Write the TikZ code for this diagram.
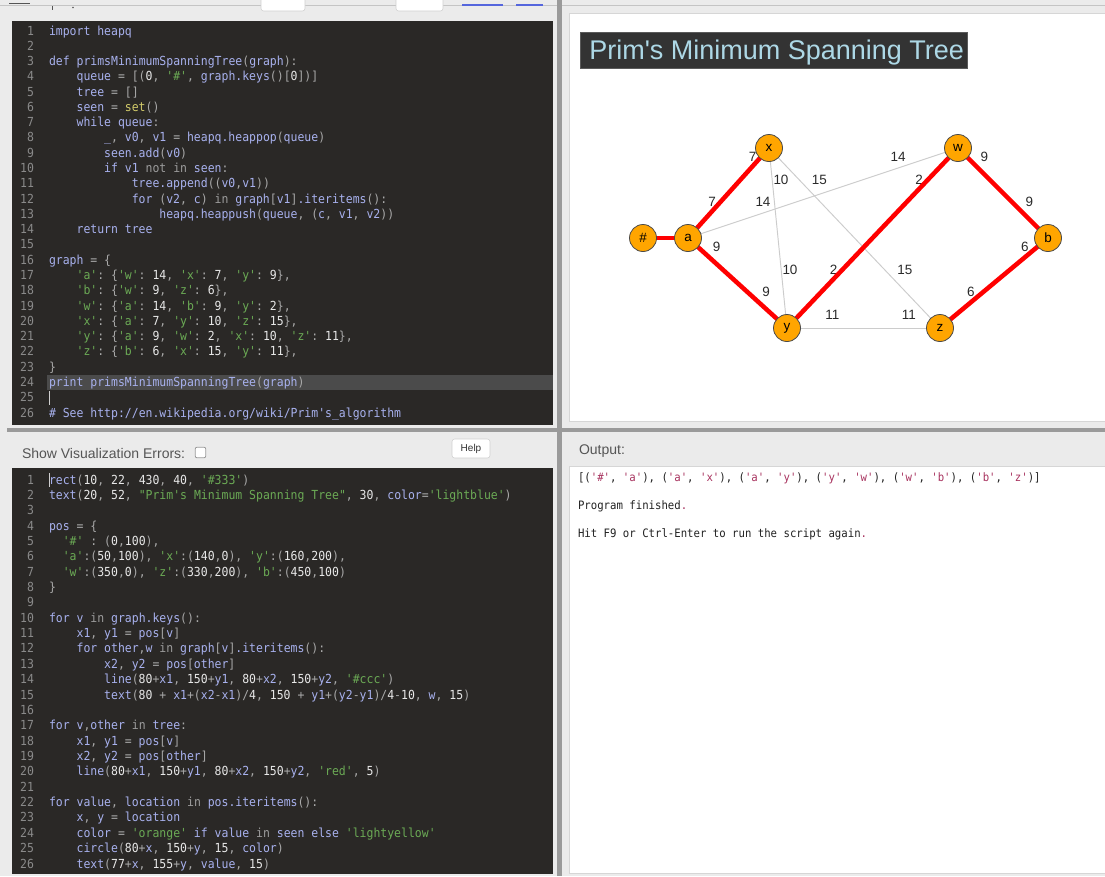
\documentclass[tikz,border=0pt]{standalone}
\usepackage{fontspec}
\setmainfont{Liberation Sans}
\setmonofont{DejaVu Sans Mono}[FakeStretch=0.92]

\definecolor{pagebg}{HTML}{EBEBEB}
\definecolor{codebg}{HTML}{2A2826}
\definecolor{cid}{HTML}{A8B1EE}
\definecolor{cnum}{HTML}{E8E8E8}
\definecolor{cstr}{HTML}{6BAA55}
\definecolor{cpun}{HTML}{A9A9A9}
\definecolor{cset}{HTML}{D2CB6A}
\definecolor{cmut}{HTML}{9C9C9C}
\definecolor{clnum}{HTML}{8A8A8A}
\definecolor{hiline}{HTML}{4B4B4B}
\definecolor{titlebg}{HTML}{333333}
\definecolor{titleedge}{HTML}{5A5A5A}
\definecolor{lightblue}{HTML}{ADD8E6}
\definecolor{orangefill}{HTML}{FFA500}
\definecolor{vtxborder}{HTML}{4A4A4A}
\definecolor{edgegrey}{HTML}{CCCCCC}
\definecolor{labeltext}{HTML}{2A2A2A}
\definecolor{outtext}{HTML}{222222}
\definecolor{outstr}{HTML}{A8335F}
\definecolor{headtext}{HTML}{555555}
\definecolor{panelborder}{HTML}{D6D6D6}
\definecolor{splitter}{HTML}{9A9A9A}
\definecolor{linkblue}{HTML}{5566DD}
\definecolor{stripline}{HTML}{C4C4C4}
\definecolor{cursorc}{HTML}{CFCFCF}
\definecolor{btnedge}{HTML}{D0D0D0}
\definecolor{chkedge}{HTML}{999999}
\definecolor{btntext}{HTML}{333333}
\definecolor{tooldark}{HTML}{555555}

\newcommand\cdP[1]{\textcolor{cpun}{#1}}
\newcommand\cdN[1]{\textcolor{cnum}{#1}}
\newcommand\cdS[1]{\textcolor{cstr}{#1}}
\newcommand\cdY[1]{\textcolor{cset}{#1}}
\newcommand\cdM[1]{\textcolor{cmut}{#1}}
\newcommand\oS[1]{\textcolor{outstr}{#1}}
\newcommand\codefont{\ttfamily\fontsize{9.35}{11}\selectfont}
\newcommand\outfont{\ttfamily\fontsize{8.7}{10}\selectfont}
\newcommand\uifont{\fontsize{10.5}{12}\selectfont}
\newcommand\gfont{\fontsize{10.1}{12}\selectfont}
\newcommand\codeT[3]{\node[codeline] (tc#1) at ({49+#2*6.9},{35+(#1-1)*15.28}) {#3};}
\newcommand\codeB[3]{\node[codeline] (bc#1) at ({49+#2*6.9},{484+(#1-1)*15.36}) {#3};}

\begin{document}
\begin{tikzpicture}[x=0.75pt,y=-0.75pt,
  codeline/.style={anchor=base west, inner sep=0pt, outer sep=0pt, text=cid, font=\codefont},
  lnum/.style={anchor=base east, inner sep=0pt, outer sep=0pt, text=clnum, font=\codefont},
  outtxt/.style={anchor=base west, inner sep=0pt, outer sep=0pt, text=outtext, font=\outfont},
  uitxt/.style={anchor=base west, inner sep=0pt, outer sep=0pt, text=headtext, font=\uifont},
  vpos/.style={circle, minimum size=20.25pt, inner sep=0pt},
  vtx/.style={circle, fill=orangefill, draw=vtxborder, line width=0.6pt, minimum size=20.25pt, inner sep=0pt},
  vlabel/.style={inner sep=0pt, outer sep=0pt, font=\gfont, text=black},
  elabel/.style={anchor=base west, inner sep=0pt, outer sep=0pt, font=\gfont, text=labeltext},
  gedge/.style={draw=edgegrey, line width=0.7pt},
  tedge/.style={draw=red, line width=3.4pt}]
\useasboundingbox (0,0) rectangle (1105,876);

\fill[pagebg] (0,0) rectangle (1105,876);
% top strip (cut-off toolbar)
\draw[stripline, line width=0.75pt] (0,5.4) -- (1105,5.4);
\draw[tooldark, line width=1.2pt] (9,3.5) -- (30,3.5);
\draw[tooldark, line width=0.7pt] (52,6) -- (52,10);
\fill[tooldark] (73,7.5) circle (0.9);
\filldraw[fill=white, draw=btnedge, rounded corners=2pt] (261,-4) rectangle (305,11);
\filldraw[fill=white, draw=btnedge, rounded corners=2pt] (396,-4) rectangle (443,11);
\draw[linkblue, line width=1.5pt] (462,4.5) -- (503,4.5);
\draw[linkblue, line width=1.5pt] (516,4.5) -- (543,4.5);
% top-left code panel
\fill[codebg] (11.5,20.5) rectangle (553,425);
\fill[hiline] (47,375) rectangle (553,390);
% bottom-left code panel
\fill[codebg] (11.5,468) rectangle (553,874);
% splitters
\fill[splitter] (7,427.5) rectangle (1105,432);
\fill[splitter] (557,0) rectangle (562,876);
% right panels
\filldraw[fill=white, draw=panelborder] (569.5,13.5) rectangle (1106,421);
\filldraw[fill=white, draw=panelborder] (569.5,466.5) rectangle (1106,873.5);
% title box
\filldraw[fill=titlebg, draw=titleedge, line width=0.6pt] (580,32.8) rectangle (967,68.8);
% cursors
\draw[cursorc, line width=0.7pt] (49.5,391) -- (49.5,405);
\draw[cursorc, line width=0.7pt] (49.5,473) -- (49.5,487);

% line numbers
\foreach \n in {1,...,26} {
  \node[lnum] (tn\n) at (34,{35+(\n-1)*15.28}) {\n};
  \node[lnum] (bn\n) at (34,{484+(\n-1)*15.36}) {\n};
}

% top code
\codeT{1}{0}{import heapq}
\codeT{3}{0}{def primsMinimumSpanningTree\cdP{(}graph\cdP{):}}
\codeT{4}{4}{queue \cdP{= [(}\cdN{0}\cdP{,} \cdS{'\#'}\cdP{,} graph.keys\cdP{()[}\cdN{0}\cdP{])]}}
\codeT{5}{4}{tree \cdP{= []}}
\codeT{6}{4}{seen \cdP{=} \cdY{set}\cdP{()}}
\codeT{7}{4}{while queue\cdP{:}}
\codeT{8}{8}{\_\cdP{,} v0\cdP{,} v1 \cdP{=} heapq.heappop\cdP{(}queue\cdP{)}}
\codeT{9}{8}{seen.add\cdP{(}v0\cdP{)}}
\codeT{10}{8}{if v1 \cdM{not in} seen\cdP{:}}
\codeT{11}{12}{tree.append\cdP{((}v0\cdP{,}v1\cdP{))}}
\codeT{12}{12}{for \cdP{(}v2\cdP{,} c\cdP{)} \cdM{in} graph\cdP{[}v1\cdP{]}.iteritems\cdP{():}}
\codeT{13}{16}{heapq.heappush\cdP{(}queue\cdP{, (}c\cdP{,} v1\cdP{,} v2\cdP{))}}
\codeT{14}{4}{return tree}
\codeT{16}{0}{graph \cdP{= \{}}
\codeT{17}{4}{\cdS{'a'}\cdP{: \{}\cdS{'w'}\cdP{:} \cdN{14}\cdP{,} \cdS{'x'}\cdP{:} \cdN{7}\cdP{,} \cdS{'y'}\cdP{:} \cdN{9}\cdP{\},}}
\codeT{18}{4}{\cdS{'b'}\cdP{: \{}\cdS{'w'}\cdP{:} \cdN{9}\cdP{,} \cdS{'z'}\cdP{:} \cdN{6}\cdP{\},}}
\codeT{19}{4}{\cdS{'w'}\cdP{: \{}\cdS{'a'}\cdP{:} \cdN{14}\cdP{,} \cdS{'b'}\cdP{:} \cdN{9}\cdP{,} \cdS{'y'}\cdP{:} \cdN{2}\cdP{\},}}
\codeT{20}{4}{\cdS{'x'}\cdP{: \{}\cdS{'a'}\cdP{:} \cdN{7}\cdP{,} \cdS{'y'}\cdP{:} \cdN{10}\cdP{,} \cdS{'z'}\cdP{:} \cdN{15}\cdP{\},}}
\codeT{21}{4}{\cdS{'y'}\cdP{: \{}\cdS{'a'}\cdP{:} \cdN{9}\cdP{,} \cdS{'w'}\cdP{:} \cdN{2}\cdP{,} \cdS{'x'}\cdP{:} \cdN{10}\cdP{,} \cdS{'z'}\cdP{:} \cdN{11}\cdP{\},}}
\codeT{22}{4}{\cdS{'z'}\cdP{: \{}\cdS{'b'}\cdP{:} \cdN{6}\cdP{,} \cdS{'x'}\cdP{:} \cdN{15}\cdP{,} \cdS{'y'}\cdP{:} \cdN{11}\cdP{\},}}
\codeT{23}{0}{\cdP{\}}}
\codeT{24}{0}{print primsMinimumSpanningTree\cdP{(}graph\cdP{)}}
\codeT{26}{0}{\# See http://en.wikipedia.org/wiki/Prim's\_algorithm}

% bottom code
\codeB{1}{0}{rect\cdP{(}\cdN{10}\cdP{,} \cdN{22}\cdP{,} \cdN{430}\cdP{,} \cdN{40}\cdP{,} \cdS{'\#333'}\cdP{)}}
\codeB{2}{0}{text\cdP{(}\cdN{20}\cdP{,} \cdN{52}\cdP{,} \cdS{"Prim's Minimum Spanning Tree"}\cdP{,} \cdN{30}\cdP{,} color\cdP{=}\cdS{'lightblue'}\cdP{)}}
\codeB{4}{0}{pos \cdP{= \{}}
\codeB{5}{2}{\cdS{'\#'} \cdP{: (}\cdN{0}\cdP{,}\cdN{100}\cdP{),}}
\codeB{6}{2}{\cdS{'a'}\cdP{:(}\cdN{50}\cdP{,}\cdN{100}\cdP{),} \cdS{'x'}\cdP{:(}\cdN{140}\cdP{,}\cdN{0}\cdP{),} \cdS{'y'}\cdP{:(}\cdN{160}\cdP{,}\cdN{200}\cdP{),}}
\codeB{7}{2}{\cdS{'w'}\cdP{:(}\cdN{350}\cdP{,}\cdN{0}\cdP{),} \cdS{'z'}\cdP{:(}\cdN{330}\cdP{,}\cdN{200}\cdP{),} \cdS{'b'}\cdP{:(}\cdN{450}\cdP{,}\cdN{100}\cdP{)}}
\codeB{8}{0}{\cdP{\}}}
\codeB{10}{0}{for v \cdM{in} graph.keys\cdP{():}}
\codeB{11}{4}{x1\cdP{,} y1 \cdP{=} pos\cdP{[}v\cdP{]}}
\codeB{12}{4}{for other\cdP{,}w \cdM{in} graph\cdP{[}v\cdP{]}.iteritems\cdP{():}}
\codeB{13}{8}{x2\cdP{,} y2 \cdP{=} pos\cdP{[}other\cdP{]}}
\codeB{14}{8}{line\cdP{(}\cdN{80}\cdP{+}x1\cdP{,} \cdN{150}\cdP{+}y1\cdP{,} \cdN{80}\cdP{+}x2\cdP{,} \cdN{150}\cdP{+}y2\cdP{,} \cdS{'\#ccc'}\cdP{)}}
\codeB{15}{8}{text\cdP{(}\cdN{80} \cdP{+} x1\cdP{+(}x2\cdP{-}x1\cdP{)/}\cdN{4}\cdP{,} \cdN{150} \cdP{+} y1\cdP{+(}y2\cdP{-}y1\cdP{)/}\cdN{4}\cdP{-}\cdN{10}\cdP{,} w\cdP{,} \cdN{15}\cdP{)}}
\codeB{17}{0}{for v\cdP{,}other \cdM{in} tree\cdP{:}}
\codeB{18}{4}{x1\cdP{,} y1 \cdP{=} pos\cdP{[}v\cdP{]}}
\codeB{19}{4}{x2\cdP{,} y2 \cdP{=} pos\cdP{[}other\cdP{]}}
\codeB{20}{4}{line\cdP{(}\cdN{80}\cdP{+}x1\cdP{,} \cdN{150}\cdP{+}y1\cdP{,} \cdN{80}\cdP{+}x2\cdP{,} \cdN{150}\cdP{+}y2\cdP{,} \cdS{'red'}\cdP{,} \cdN{5}\cdP{)}}
\codeB{22}{0}{for value\cdP{,} location \cdM{in} pos.iteritems\cdP{():}}
\codeB{23}{4}{x\cdP{,} y \cdP{=} location}
\codeB{24}{4}{color \cdP{=} \cdS{'orange'} if value \cdM{in} seen else \cdS{'lightyellow'}}
\codeB{25}{4}{circle\cdP{(}\cdN{80}\cdP{+}x\cdP{,} \cdN{150}\cdP{+}y\cdP{,} \cdN{15}\cdP{,} color\cdP{)}}
\codeB{26}{4}{text\cdP{(}\cdN{77}\cdP{+}x\cdP{,} \cdN{155}\cdP{+}y\cdP{,} value\cdP{,} \cdN{15}\cdP{)}}

% bottom-left header
\node[uitxt] (showerr) at (22,458) {Show Visualization Errors:};
\node[draw=chkedge, fill=white, rounded corners=1.5pt, minimum size=8pt, inner sep=0pt, line width=0.6pt] (chk) at (200.5,452.5) {};
\node[draw=btnedge, fill=white, rounded corners=2pt, minimum width=28.5pt, minimum height=14.25pt, inner sep=0pt, font=\fontsize{7.5}{9}\selectfont, text=btntext] (help) at (471,448.5) {Help};

% output panel
\node[uitxt] (outhead) at (579,454) {Output:};
\node[outtxt] (out1) at (578,481.5) {[(\oS{'\#'}, \oS{'a'}), (\oS{'a'}, \oS{'x'}), (\oS{'a'}, \oS{'y'}), (\oS{'y'}, \oS{'w'}), (\oS{'w'}, \oS{'b'}), (\oS{'b'}, \oS{'z'})]};
\node[outtxt] (out2) at (578,509.5) {Program finished\oS{.}};
\node[outtxt] (out3) at (578,537.5) {Hit F9 or Ctrl-Enter to run the script again\oS{.}};

% title
\node[anchor=base west, inner sep=0pt, text=lightblue, font=\fontsize{20.25}{24}\selectfont] (title) at (589,59.8) {Prim\textquotesingle s Minimum Spanning Tree};

% graph
\begin{scope}[shift={(571,13)}, scale=0.9]
  % vertex positions
  \node[vpos] (hash) at (80,250) {};
  \node[vpos] (a) at (130,250) {};
  \node[vpos] (x) at (220,150) {};
  \node[vpos] (y) at (240,350) {};
  \node[vpos] (w) at (430,150) {};
  \node[vpos] (z) at (410,350) {};
  \node[vpos] (b) at (530,250) {};
  % all graph edges (grey)
  \draw[gedge] (a.center) -- (w.center);
  \draw[gedge] (a.center) -- (x.center);
  \draw[gedge] (a.center) -- (y.center);
  \draw[gedge] (b.center) -- (w.center);
  \draw[gedge] (b.center) -- (z.center);
  \draw[gedge] (w.center) -- (y.center);
  \draw[gedge] (x.center) -- (y.center);
  \draw[gedge] (x.center) -- (z.center);
  \draw[gedge] (y.center) -- (z.center);
  % weights
  \node[elabel] (l1) at (205,215) {14};
  \node[elabel] (l2) at (152.5,215) {7};
  \node[elabel] (l3) at (157.5,265) {9};
  \node[elabel] (l4) at (505,215) {9};
  \node[elabel] (l5) at (500,265) {6};
  \node[elabel] (l6) at (355,165) {14};
  \node[elabel] (l7) at (455,165) {9};
  \node[elabel] (l8) at (382.5,190) {2};
  \node[elabel] (l9) at (197.5,165) {7};
  \node[elabel] (l10) at (225,190) {10};
  \node[elabel] (l11) at (267.5,190) {15};
  \node[elabel] (l12) at (212.5,315) {9};
  \node[elabel] (l13) at (287.5,290) {2};
  \node[elabel] (l14) at (235,290) {10};
  \node[elabel] (l15) at (282.5,340) {11};
  \node[elabel] (l16) at (440,315) {6};
  \node[elabel] (l17) at (362.5,290) {15};
  \node[elabel] (l18) at (367.5,340) {11};
  % tree edges (red)
  \draw[tedge] (hash.center) -- (a.center);
  \draw[tedge] (a.center) -- (x.center);
  \draw[tedge] (a.center) -- (y.center);
  \draw[tedge] (y.center) -- (w.center);
  \draw[tedge] (w.center) -- (b.center);
  \draw[tedge] (b.center) -- (z.center);
  % vertex circles
  \node[vtx] (hashc) at (hash) {};
  \node[vtx] (ac) at (a) {};
  \node[vtx] (xc) at (x) {};
  \node[vtx] (yc) at (y) {};
  \node[vtx] (wc) at (w) {};
  \node[vtx] (zc) at (z) {};
  \node[vtx] (bc) at (b) {};
  % vertex letters
  \node[vlabel] (hasht) at (hash) {\#};
  \node[vlabel] (at) at (a) {a};
  \node[vlabel] (xt) at (x) {x};
  \node[vlabel] (yt) at (y) {y};
  \node[vlabel] (wt) at (w) {w};
  \node[vlabel] (zt) at (z) {z};
  \node[vlabel] (bt) at (b) {b};
\end{scope}
\end{tikzpicture}
\end{document}
